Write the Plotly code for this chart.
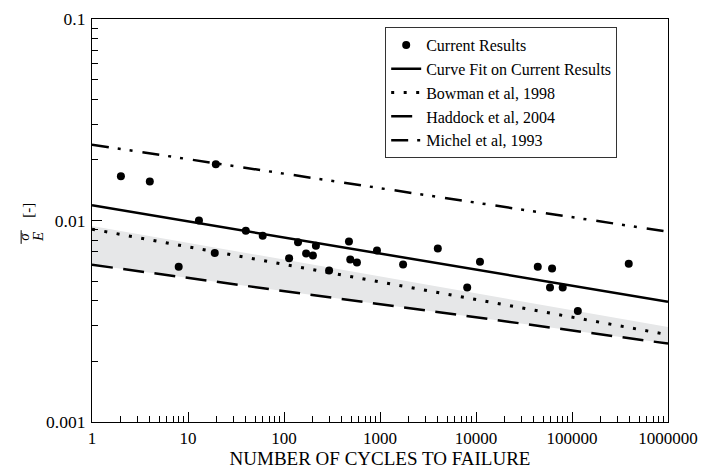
import plotly.graph_objects as go

# ---- data ----
cycles = [2, 4, 19.5, 8, 13, 40, 60, 19, 140, 113, 170, 200, 215, 295, 475, 490, 575, 930,
          1740, 4000, 8100, 11000, 44000, 62000, 59000, 80000, 115000, 390000]
strain = [0.0166, 0.0156, 0.019, 0.0059, 0.0100, 0.0089, 0.0084, 0.0069, 0.0078, 0.0065,
          0.00686, 0.0067, 0.0075, 0.00564, 0.00787, 0.0064, 0.00618, 0.0071,
          0.00604, 0.00726, 0.00465, 0.00625, 0.0059, 0.00577, 0.00465, 0.00465, 0.00356, 0.0061]

line_x = [1, 1000000]
fit_y = [0.0119, 0.00395]
michel_y = [0.0238, 0.0088]
bowman_y = [0.00906, 0.00271]
haddock_y = [0.00603, 0.00245]
band_top_y = [0.0094, 0.00296]

FONT = "Liberation Serif"

fig = go.Figure()

# shaded band (bottom then top with fill)
fig.add_trace(go.Scatter(x=line_x, y=haddock_y, mode="lines", line=dict(width=0, color="rgba(0,0,0,0)"),
                         showlegend=False, hoverinfo="skip"))
fig.add_trace(go.Scatter(x=line_x, y=band_top_y, mode="lines", line=dict(width=0, color="rgba(0,0,0,0)"),
                         fill="tonexty", fillcolor="#e6e7e8", showlegend=False, hoverinfo="skip"))

fig.add_trace(go.Scatter(x=cycles, y=strain, mode="markers", name="Current Results",
                         marker=dict(color="black", size=8)))
fig.add_trace(go.Scatter(x=line_x, y=fit_y, mode="lines", name="Curve Fit on Current Results",
                         line=dict(color="black", width=2.5)))
fig.add_trace(go.Scatter(x=line_x, y=bowman_y, mode="lines", name="Bowman et al, 1998",
                         line=dict(color="black", width=3, dash="3px,9.5px")))
fig.add_trace(go.Scatter(x=line_x, y=haddock_y, mode="lines", name="Haddock et al, 2004",
                         line=dict(color="black", width=2.5, dash="21px,10.5px")))
fig.add_trace(go.Scatter(x=line_x, y=michel_y, mode="lines", name="Michel et al, 1993",
                         line=dict(color="black", width=2.5, dash="17px,9px,3px,9px,3px,10px")))

axis_common = dict(
    type="log", showline=True, linecolor="black", linewidth=1.2, mirror=True,
    tickmode="linear", tick0=0, dtick=1, ticklabeloverflow="allow",
    ticks="inside", ticklen=10, tickcolor="black", tickwidth=1,
    showgrid=False, zeroline=False, automargin=False,
    minor=dict(ticks="inside", ticklen=6, tickcolor="black", tickwidth=1, showgrid=False),
)

fig.update_xaxes(range=[0, 6], tickformat="d",
                 tickfont=dict(family=FONT, size=17, color="black"),
                 title=dict(text="NUMBER OF CYCLES TO FAILURE",
                            font=dict(family=FONT, size=19, color="black"), standoff=5),
                 **axis_common)
fig.update_yaxes(range=[-3, -1], tickformat="~g", ticklabelstandoff=2,
                 tickfont=dict(family=FONT, size=17.5, color="black"), **axis_common)

# y-axis label: sigma over E, plus [-]
fig.add_annotation(xref="paper", yref="paper", x=-0.129, y=0.526, text="[-]", textangle=-90,
                   showarrow=False, font=dict(family=FONT, size=15, color="black"))
fig.add_annotation(xref="paper", yref="paper", x=-0.136, y=0.459, text="<i>σ</i>", textangle=-90,
                   showarrow=False, font=dict(family=FONT, size=15, color="black"))
fig.add_annotation(xref="paper", yref="paper", x=-0.111, y=0.459, text="<i>E</i>", textangle=-90,
                   showarrow=False, font=dict(family=FONT, size=15, color="black"))
fig.add_shape(type="line", xref="paper", yref="paper", x0=-0.123, x1=-0.123, y0=0.442, y1=0.476,
              line=dict(color="black", width=1))

fig.update_layout(
    width=701, height=471,
    margin=dict(l=92, r=33, t=19, b=49),
    paper_bgcolor="white", plot_bgcolor="white",
    font=dict(family=FONT, size=16, color="black"),
    legend=dict(x=0.509, y=0.98, xanchor="left", yanchor="top", traceorder="normal",
                bordercolor="#333333", borderwidth=1, bgcolor="white",
                font=dict(family=FONT, size=16, color="black"),
                itemwidth=30, tracegroupgap=0),
    showlegend=True,
)

# remove the default page margin so the 701x471 figure fills the window exactly
fig.write_html("out.html", config={"displayModeBar": False},
               post_script="document.body.style.margin='0';document.body.style.overflow='hidden';")
